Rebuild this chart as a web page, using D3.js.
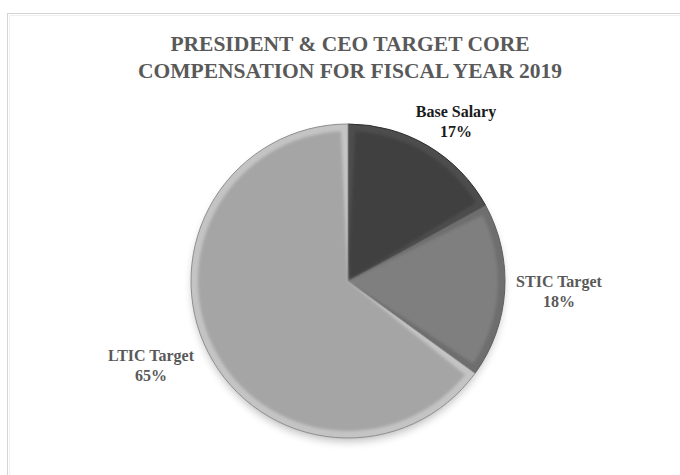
<!DOCTYPE html>
<html>
<head>
<meta charset="utf-8">
<script src="https://cdn.jsdelivr.net/npm/d3@7"></script>
<style>
  html, body { margin: 0; padding: 0; background: #fff; }
  svg { display: block; }
</style>
</head>
<body>
<script>
const categories = ["Base Salary", "STIC Target", "LTIC Target"];
const values = [17, 18, 65];
const titleLines = ["PRESIDENT & CEO TARGET CORE", "COMPENSATION FOR FISCAL YEAR 2019"];

const W = 680, H = 475;
const cx = 348, cy = 281, R = 157;

const svg = d3.select("body").append("svg").attr("width", W).attr("height", H);
const defs = svg.append("defs");
defs.append("filter").attr("id", "shadow").attr("x", "-20%").attr("y", "-20%").attr("width", "140%").attr("height", "140%")
  .append("feGaussianBlur").attr("stdDeviation", 5);
defs.append("filter").attr("id", "soft").attr("x", "-10%").attr("y", "-10%").attr("width", "120%").attr("height", "120%")
  .append("feGaussianBlur").attr("stdDeviation", 1.4);

// frame
svg.append("rect").attr("x", 7.5).attr("y", 13.5).attr("width", 720).attr("height", 520)
  .attr("fill", "none").attr("stroke", "#d4d4d4").attr("stroke-width", 1);
svg.append("rect").attr("x", 9.5).attr("y", 15.5).attr("width", 720).attr("height", 520)
  .attr("fill", "none").attr("stroke", "#f0f0f0").attr("stroke-width", 1);

// title
const title = svg.append("text").attr("text-anchor", "middle")
  .attr("font-family", "'Liberation Serif', 'Times New Roman', serif")
  .attr("font-weight", "bold").attr("font-size", 21.5).attr("fill", "#595959");
titleLines.forEach((t, i) => {
  title.append("tspan").attr("x", 350).attr("y", 51 + i * 27).text(t);
});

const mainColor = d3.scaleOrdinal().domain(categories).range(["#404040", "#7f7f7f", "#a5a5a5"]);
const rimColor = d3.scaleOrdinal().domain(categories).range(["#4d4d4d", "#6e6e6e", "#c4c4c4"]);
const edgeColor = d3.scaleOrdinal().domain(categories).range(["#2e2e2e", "#5e5e5e", "#8f8f8f"]);

const data = categories.map((c, i) => ({ name: c, value: values[i] }));
const pie = d3.pie().sort(null).value(d => d.value);
const arcs = pie(data);

const g = svg.append("g").attr("transform", `translate(${cx},${cy})`);

// shadow
g.append("circle").attr("cx", 0).attr("cy", 5).attr("r", R - 2)
  .attr("fill", "#000").attr("opacity", 0.28).attr("filter", "url(#shadow)");

const outer = d3.arc().innerRadius(0).outerRadius(R);
const inset = d3.arc().innerRadius(0).outerRadius(R - 7).padAngle(14 / R).padRadius(R);

g.selectAll("path.base").data(arcs).join("path")
  .attr("class", "base").attr("d", outer)
  .attr("fill", d => rimColor(d.data.name))
  .attr("stroke", d => edgeColor(d.data.name)).attr("stroke-width", 1);

g.selectAll("path.inner").data(arcs).join("path")
  .attr("class", "inner").attr("d", inset)
  .attr("fill", d => mainColor(d.data.name))
  .attr("filter", "url(#soft)");

// labels
const labelPos = {
  "Base Salary": [456, 117, "#1a1a1a"],
  "STIC Target": [559, 287, "#595959"],
  "LTIC Target": [151, 361, "#595959"]
};
const fmt = d3.format(".0%");
const total = d3.sum(values);
const lab = svg.append("g")
  .attr("font-family", "'Liberation Serif', 'Times New Roman', serif")
  .attr("font-weight", "bold").attr("font-size", 16).attr("text-anchor", "middle");
arcs.forEach(a => {
  const p = labelPos[a.data.name];
  const t = lab.append("text").attr("fill", p[2]);
  t.append("tspan").attr("x", p[0]).attr("y", p[1]).text(a.data.name);
  t.append("tspan").attr("x", p[0]).attr("y", p[1] + 20).text(fmt(a.data.value / total));
});
</script>
</body>
</html>
